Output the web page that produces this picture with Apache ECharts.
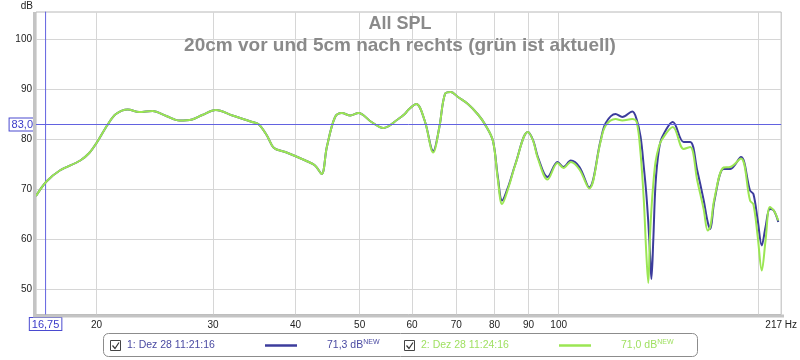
<!DOCTYPE html>
<html><head><meta charset="utf-8">
<script src="https://cdn.jsdelivr.net/npm/echarts@6/dist/echarts.min.js"></script>
<style>html,body{margin:0;padding:0;background:#fff}#c{width:800px;height:360px}</style>
</head><body><div id="c"></div>
<script>
// ---- data ----
const freq = [16.2,16.8,17.6,18.9,19.5,20.0,20.8,21.4,22.3,23.2,24.3,25.5,26.7,27.9,28.9,30.3,32.1,34.4,35.2,36.2,37.1,38.6,41.4,42.8,43.8,44.6,45.9,47.0,48.4,49.8,52.1,54.3,57.2,58.5,59.2,60.9,62.7,64.6,66.0,67.3,68.7,70.4,72.9,75.5,77.3,79.5,80.9,82.1,84.0,86.0,89.8,91.5,93.0,96.2,99.6,101.7,104.3,107.5,111.2,115.7,117.8,121.9,124.8,129.2,131.2,133.0,134.5,135.6,136.6,137.4,138.1,139.0,140.1,141.7,143.4,148.8,154.5,158.1,162.0,165.7,168.0,169.5,172.0,177.6,181.7,188.6,194.7,197.0,200.0,202.8,205.5,208.6,211.5,214.8];
const splBlue = [68.7,71.6,73.8,75.8,77.3,79.3,83.0,85.1,86.0,85.5,85.7,84.7,83.8,84.0,84.9,85.9,84.8,83.5,83.0,80.8,78.3,77.5,75.8,74.8,73.1,78.5,84.5,85.3,84.8,85.3,83.5,82.3,84.1,85.1,85.9,87.1,83.8,77.7,82.5,89.1,89.5,88.5,87.1,85.0,83.1,79.8,72.5,67.8,70.8,75.1,81.5,79.8,76.5,72.5,75.5,74.5,75.8,74.5,70.4,79.8,83.3,85.1,84.5,85.6,84.0,80.5,74.5,69.5,63.5,57.5,52.1,59.8,71.1,77.8,80.5,83.5,79.5,79.5,73.8,67.8,63.5,62.1,67.8,74.1,74.1,76.5,69.8,69.1,63.8,58.8,62.5,66.1,65.8,63.5];
const splGreen = [68.7,71.6,73.8,75.8,77.3,79.3,83.0,85.1,86.0,85.5,85.7,84.7,83.8,84.0,84.9,85.9,84.8,83.5,83.0,80.8,78.3,77.5,75.8,74.8,73.1,78.5,84.5,85.3,84.8,85.3,83.5,82.3,84.1,85.1,85.9,87.1,83.8,77.4,82.5,89.1,89.5,88.5,87.1,85.0,83.1,79.8,72.0,67.1,70.5,75.0,81.5,79.7,76.2,72.0,75.3,74.3,75.5,74.0,70.2,79.6,82.8,84.1,83.8,84.1,83.5,77.1,67.8,57.8,51.3,60.5,66.0,71.1,75.5,78.5,80.1,82.5,78.1,78.5,71.8,66.0,61.8,62.5,68.2,74.4,74.5,76.2,67.8,67.0,60.5,53.8,59.8,66.5,65.8,63.8];
const seriesNames = ['1: Dez 28 11:21:16', '2: Dez 28 11:24:16'];
const seriesLevels = ['71,3 dB', '71,0 dB'];
const xTicks = [20,30,40,50,60,70,80,90,100,200];
const xLabelValues = [20,30,40,50,60,70,80,90,100];
const yTicks = [50,60,70,80,90,100];
const xMin = 16.2, xMax = 217, yMin = 45, yMax = 105.5;
const cursorX = 16.75, cursorY = 83.0;
const titleText = 'All SPL';
const subTitleText = '20cm vor und 5cm nach rechts (grün ist aktuell)';

// ---- styles ----
const BLUE = '#3c3c9c', GREEN = '#9be653', CURSOR = '#6262e0';
const BLUE_TXT = '#4a4aa2', GREEN_TXT = '#9fe060';
const FONT = '"Liberation Sans", Arial, sans-serif';

const chart = echarts.init(document.getElementById('c'), null, {renderer: 'canvas'});
const pairs = arr => freq.map((f, i) => [f, arr[i]]);
const cursorLabel = {
  show: true, color: '#3a3ac8', fontSize: 11, fontFamily: FONT,
  backgroundColor: '#fff', borderColor: '#4a4ad0', borderWidth: 1, padding: [1, 2, 0, 2]
};

function legendItem(i, x0, color, txtColor) {
  const cbx = x0, cy = 345.5;
  return [
    {type: 'rect', shape: {x: cbx + 0.5, y: 340.5, width: 10, height: 10}, style: {fill: '#fff', stroke: '#444', lineWidth: 1}},
    {type: 'polyline', shape: {points: [[cbx + 2.5, 345.5], [cbx + 5, 348.5], [cbx + 9, 342.5]]}, style: {stroke: '#333', lineWidth: 1.2, fill: null}},
    {type: 'text', x: cbx + 17, y: cy, style: {text: seriesNames[i], fill: txtColor, font: '10.5px ' + FONT, verticalAlign: 'middle'}},
    {type: 'line', shape: {x1: cbx + 155, y1: cy, x2: cbx + 187, y2: cy}, style: {stroke: color, lineWidth: 2.5}},
    {type: 'text', x: cbx + 217, y: cy, style: {
      text: '{v|' + seriesLevels[i] + '}{s|NEW}', verticalAlign: 'middle',
      rich: {v: {fill: txtColor, font: '10.5px ' + FONT}, s: {fill: txtColor, font: '7px ' + FONT, verticalAlign: 'bottom', padding: [0, 0, 7, 0]}}
    }}
  ];
}

const option = {
  animation: false,
  backgroundColor: '#fff',
  title: {
    text: titleText, subtext: subTitleText, left: 'center', top: 10, itemGap: 3,
    textStyle: {color: '#8a8a8a', fontSize: 18, fontWeight: 'bold', fontFamily: FONT},
    subtextStyle: {color: '#8a8a8a', fontSize: 19, fontWeight: 'bold', fontFamily: FONT}
  },
  grid: {left: 36, right: 16, top: 12, bottom: 45.5, show: true, borderColor: '#b8b8b8', borderWidth: 1, backgroundColor: 'transparent'},
  xAxis: {
    type: 'log', min: xMin, max: xMax,
    axisLine: {show: false}, axisTick: {show: false, customValues: xTicks},
    splitLine: {show: true, lineStyle: {color: '#d6d6d6', width: 1}},
    axisLabel: {customValues: xLabelValues.concat([xMax * 0.9999]), margin: 6, color: '#222', fontSize: 10, fontFamily: FONT,
      formatter: v => (v > 210 ? '217 Hz' : String(Math.round(v)))}
  },
  yAxis: {
    type: 'value', min: yMin, max: yMax,
    name: 'dB', nameLocation: 'end', nameGap: 0,
    nameTextStyle: {color: '#222', fontSize: 10, fontFamily: FONT, align: 'right', verticalAlign: 'bottom', padding: [0, 3, 1, 0]},
    axisLine: {show: false, onZero: false}, axisTick: {show: false, customValues: yTicks},
    splitLine: {show: true, lineStyle: {color: '#d6d6d6', width: 1}},
    axisLabel: {customValues: yTicks, margin: 4, color: '#222', fontSize: 10, fontFamily: FONT}
  },
  series: [
    {
      name: 'cursorX', type: 'line', symbol: 'circle', symbolSize: 1, showSymbol: true, silent: true, clip: false, z: 2,
      itemStyle: {color: CURSOR},
      lineStyle: {color: CURSOR, width: 1},
      data: [
        {value: [cursorX, yMin], label: Object.assign({position: 'bottom', distance: 3, formatter: () => cursorX.toFixed(2).replace('.', ',')}, cursorLabel)},
        {value: [cursorX, yMax], label: {show: false}}
      ]
    },
    {
      name: seriesNames[0], type: 'line', data: pairs(splBlue), showSymbol: false, smooth: 0.35,
      lineStyle: {color: BLUE, width: 2}, z: 3,
      markLine: {
        silent: true, symbol: ['none', 'none'], animation: false,
        lineStyle: {color: CURSOR, width: 1, type: 'solid', opacity: 1},
        data: [
          {yAxis: cursorY, label: Object.assign({position: 'start', distance: 1, formatter: () => cursorY.toFixed(1).replace('.', ',')}, cursorLabel)}
        ]
      }
    },
    {
      name: seriesNames[1], type: 'line', data: pairs(splGreen), showSymbol: false, smooth: 0.35,
      lineStyle: {color: GREEN, width: 2}, z: 4
    }
  ],
  graphic: [
    {type: 'rect', shape: {x: 33, y: 12, width: 3, height: 305}, style: {fill: '#c4c4c4'}, z: 10},
    {type: 'rect', shape: {x: 33, y: 314.5, width: 751, height: 3}, style: {fill: '#c4c4c4'}, z: 10},
    {type: 'rect', shape: {x: 103.5, y: 333.5, width: 594, height: 23, r: 5}, style: {fill: '#fff', stroke: '#8c8c8c', lineWidth: 1}},
  ].concat(legendItem(0, 110, BLUE, BLUE_TXT), legendItem(1, 404, GREEN, GREEN_TXT))
};
chart.setOption(option);
</script>
</body></html>
